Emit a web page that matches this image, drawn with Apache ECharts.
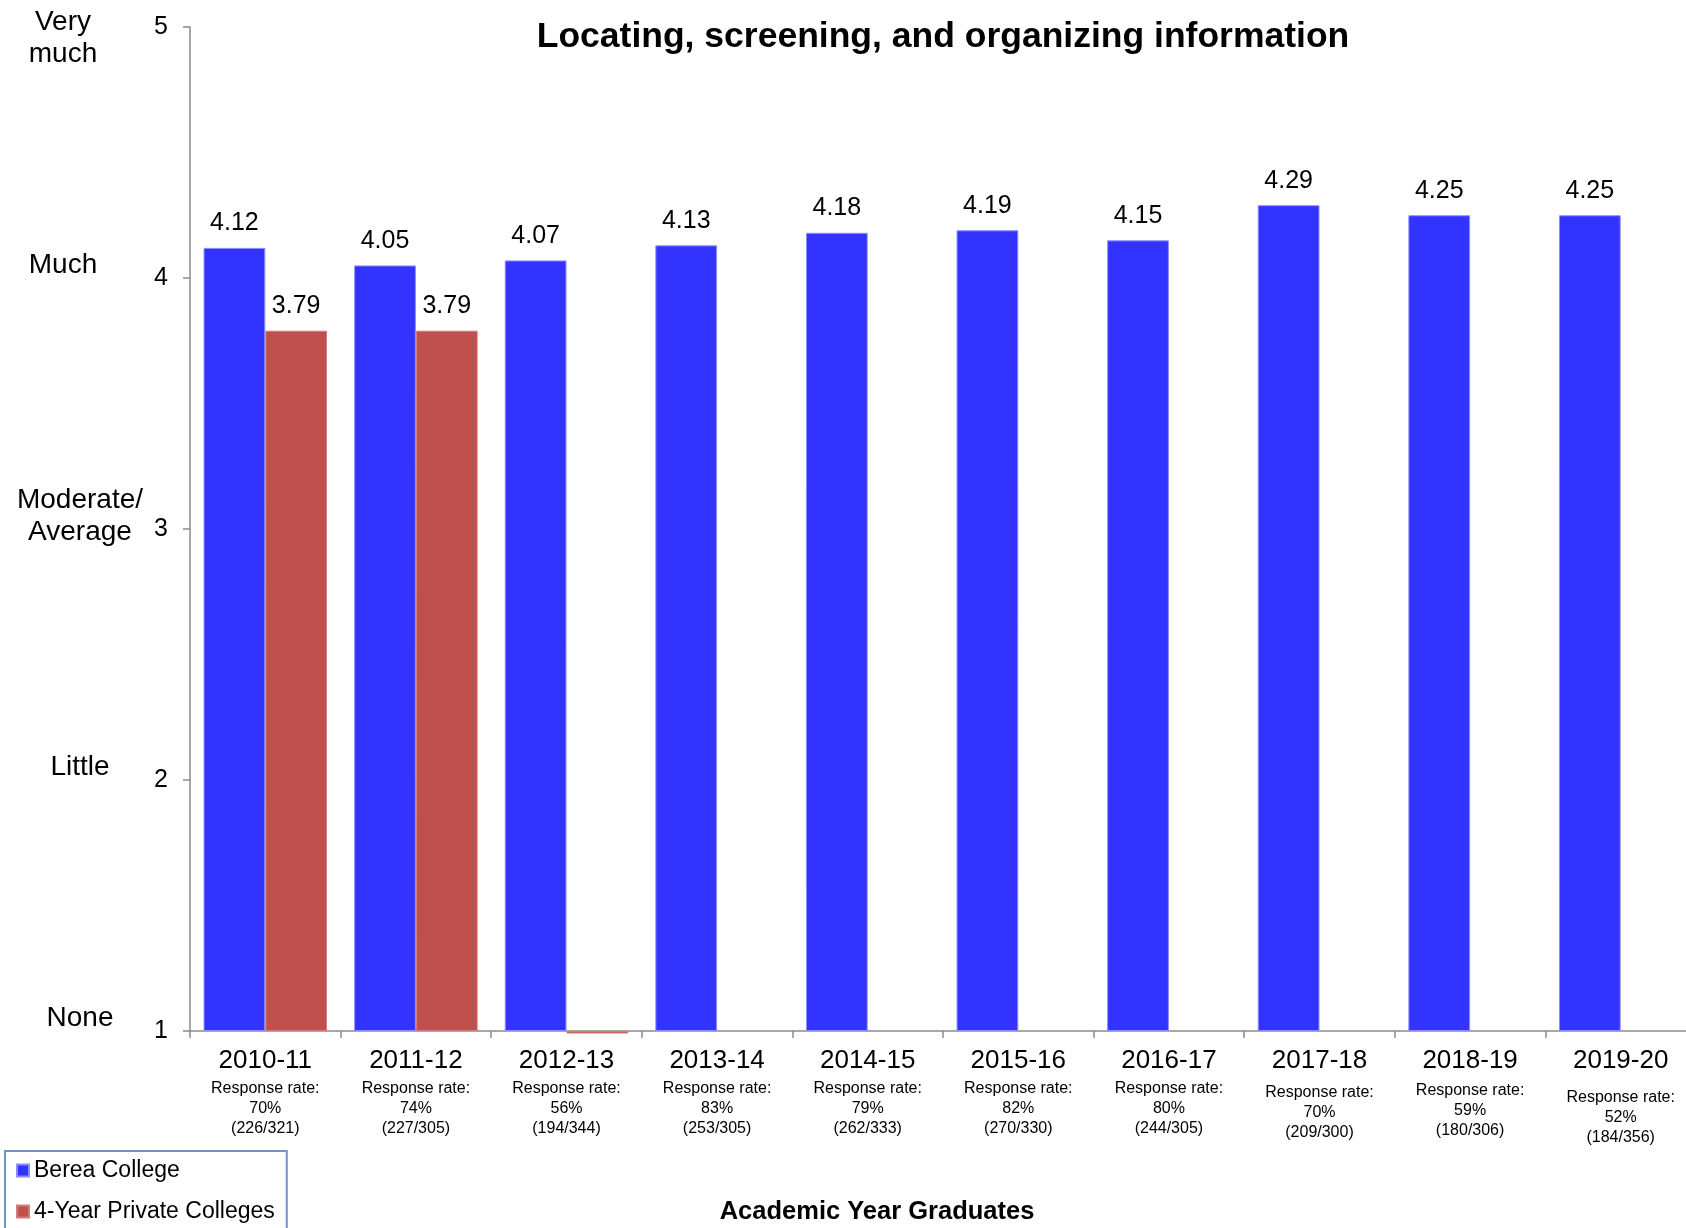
<!DOCTYPE html>
<html>
<head>
<meta charset="utf-8">
<title>Locating, screening, and organizing information</title>
<script src="https://cdn.jsdelivr.net/npm/echarts@6/dist/echarts.min.js"></script>
<style>
  html, body { margin: 0; padding: 0; background: #fff; }
  #chart { width: 1686px; height: 1228px; }
</style>
</head>
<body>
<div id="chart"></div>
<script>
// data
const categories = ['2010-11', '2011-12', '2012-13', '2013-14', '2014-15', '2015-16', '2016-17', '2017-18', '2018-19', '2019-20']
const bereaScores = [4.12, 4.05, 4.07, 4.13, 4.18, 4.19, 4.15, 4.29, 4.25, 4.25]
const privateScores = [3.79, 3.79, 0.99, null, null, null, null, null, null, null]
const responseRates = ['70%', '74%', '56%', '83%', '79%', '82%', '80%', '70%', '59%', '52%']
const responseCounts = ['(226/321)', '(227/305)', '(194/344)', '(253/305)', '(262/333)', '(270/330)', '(244/305)', '(209/300)', '(180/306)', '(184/356)']
const scaleTicks = [1, 2, 3, 4, 5]
const scaleNames = ['None', 'Little', 'Moderate/\nAverage', 'Much', 'Very\nmuch']

const FONT = '"Liberation Sans", Arial, sans-serif'
const AXIS_GREY = '#8a8a8a'

const chart = echarts.init(document.getElementById('chart'))

// a few labels sit a little lower in the original
const labelDrop = { 7: 4, 8: 2, 9: 9 }

const xLabel = (value, index) => {
  let s = '{y|' + value + '}\n'
  if (labelDrop[index]) s += '{g' + labelDrop[index] + '| }\n'
  s += '{r|Response rate:}\n{r|' + responseRates[index] + '}\n{r|' + responseCounts[index] + '}'
  return s
}

const scaleLabel = (value) => {
  const i = scaleTicks.indexOf(value)
  if (i < 0) return ''
  const name = scaleNames[i]
  const style = value >= 4 ? 'a' : 'b'
  const lines = name.split('\n').map((l) => '{' + style + '|' + l + '}').join('\n')
  return value === 5 ? '{sp| }\n' + lines : lines
}

const xRich = {
  y: { fontSize: 26, lineHeight: 36, color: '#000', fontFamily: FONT },
  r: { fontSize: 16, lineHeight: 20, color: '#000', fontFamily: FONT },
}
Object.values(labelDrop).forEach((d) => {
  xRich['g' + d] = { fontSize: 2, lineHeight: d }
})

const option = {
  animation: false,
  textStyle: { fontFamily: FONT },
  title: {
    text: 'Locating, screening, and organizing information',
    left: 943,
    top: 19,
    padding: 0,
    textAlign: 'center',
    textStyle: { fontSize: 35.5, fontWeight: 'bold', color: '#000', fontFamily: FONT },
  },
  legend: {
    orient: 'vertical',
    left: 5,
    top: 1151,
    height: 140,
    padding: [8, 12, 40, 11],
    borderColor: '#6d93c9',
    borderWidth: 2,
    itemWidth: 12,
    itemHeight: 12,
    itemGap: 18,
    icon: 'rect',
    textStyle: { fontSize: 23, color: '#000', fontFamily: FONT },
    data: ['Berea College', '4-Year Private Colleges'],
  },
  grid: {
    left: 190,
    right: -10,
    top: 27,
    bottom: 197,
    containLabel: false,
    outerBoundsMode: 'none',
  },
  xAxis: {
    type: 'category',
    data: categories,
    name: 'Academic Year Graduates',
    nameLocation: 'middle',
    nameGap: 168,
    nameTextStyle: {
      fontSize: 25.5,
      fontWeight: 'bold',
      color: '#000',
      fontFamily: FONT,
      padding: [0, 132, 0, 0],
    },
    axisLine: { lineStyle: { color: AXIS_GREY, width: 1.5 } },
    axisTick: { show: true, length: 7, lineStyle: { color: AXIS_GREY, width: 1.5 } },
    axisLabel: {
      interval: 0,
      margin: 12,
      formatter: xLabel,
      rich: xRich,
    },
  },
  yAxis: [
    {
      type: 'value',
      min: 1,
      max: 5,
      interval: 1,
      startValue: 1,
      splitLine: { show: false },
      axisLine: { show: true, lineStyle: { color: AXIS_GREY, width: 1.5 } },
      axisTick: { show: true, length: 7, lineStyle: { color: AXIS_GREY, width: 1.5 } },
      axisLabel: { fontSize: 25, color: '#000', margin: 22, fontFamily: FONT },
    },
    {
      type: 'value',
      position: 'left',
      min: 1,
      max: 5,
      interval: 1,
      splitLine: { show: false },
      axisLine: { show: false },
      axisTick: { show: false },
      axisLabel: {
        align: 'center',
        margin: 110,
        padding: [0, 0, 25, 0],
        formatter: scaleLabel,
        rich: {
          a: { fontSize: 28, lineHeight: 32, color: '#000', fontFamily: FONT, padding: [0, 34, 0, 0] },
          b: { fontSize: 28, lineHeight: 32, color: '#000', fontFamily: FONT },
          sp: { fontSize: 10, lineHeight: 48 },
        },
      },
    },
  ],
  series: [
    {
      name: 'Berea College',
      type: 'bar',
      data: bereaScores,
      barGap: '0%',
      barCategoryGap: '18%',
      itemStyle: { color: '#3333ff', borderColor: '#8c8cff', borderWidth: 1 },
      label: {
        show: true,
        position: 'top',
        distance: 12,
        fontSize: 25,
        color: '#000',
        fontFamily: FONT,
        formatter: (p) => p.value.toFixed(2),
      },
    },
    {
      name: '4-Year Private Colleges',
      type: 'bar',
      data: privateScores,
      clip: false,
      itemStyle: { color: '#c0504d', borderColor: '#d27d7b', borderWidth: 1 },
      label: {
        show: true,
        position: 'top',
        distance: 12,
        fontSize: 25,
        color: '#000',
        fontFamily: FONT,
        formatter: (p) => (p.value != null && p.value >= 1 ? p.value.toFixed(2) : ''),
      },
    },
  ],
}

chart.setOption(option)
</script>
</body>
</html>
